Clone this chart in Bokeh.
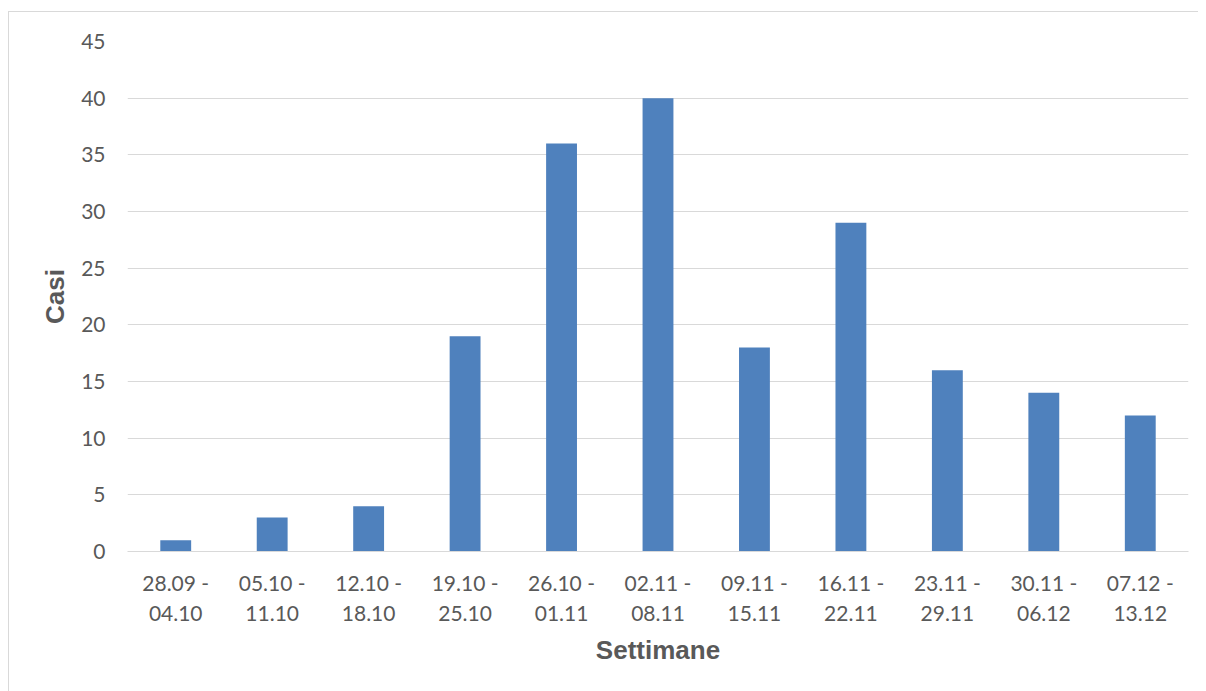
from bokeh.plotting import figure
from bokeh.models import ColumnDataSource, Range1d, FixedTicker
from bokeh.embed import file_html
from bokeh.resources import INLINE

weeks = ["28.09 -\n04.10", "05.10 -\n11.10", "12.10 -\n18.10", "19.10 -\n25.10",
         "26.10 -\n01.11", "02.11 -\n08.11", "09.11 -\n15.11", "16.11 -\n22.11",
         "23.11 -\n29.11", "30.11 -\n06.12", "07.12 -\n13.12"]
cases = [1, 3, 4, 19, 36, 40, 18, 29, 16, 14, 12]
y_ticks = [0, 5, 10, 15, 20, 25, 30, 35, 40, 45]

src = ColumnDataSource(dict(w=weeks, c=cases))

p = figure(x_range=weeks, y_range=Range1d(0, 45), width=1190, height=683,
           output_backend="svg", toolbar_location=None,
           min_border_left=118, min_border_right=11, min_border_top=29,
           min_border_bottom=144)
p.styles = {"border-top": "1px solid #d9d9d9", "border-left": "1px solid #d9d9d9",
            "margin-top": "11px", "margin-left": "8px"}
p.outline_line_color = None
p.background_fill_color = "white"

p.vbar(x="w", top="c", width=0.32, source=src, fill_color="#4f81bd", line_color=None)

label_font = "Lato"
p.yaxis.ticker = FixedTicker(ticks=y_ticks)
p.yaxis.axis_line_color = None
p.yaxis.major_tick_line_color = None
p.yaxis.minor_tick_line_color = None
p.yaxis.major_label_text_font = label_font
p.yaxis.major_label_text_font_size = "21px"
p.yaxis.major_label_text_color = "#595959"
p.yaxis.major_label_standoff = 16
p.yaxis.axis_label = "Casi"
p.yaxis.axis_label_text_font = "Liberation Sans"
p.yaxis.axis_label_text_font_style = "bold"
p.yaxis.axis_label_text_font_size = "26px"
p.yaxis.axis_label_text_color = "#595959"
p.yaxis.axis_label_standoff = 8

p.xaxis.axis_line_color = "#d9d9d9"
p.xaxis.major_tick_line_color = None
p.xaxis.minor_tick_line_color = None
p.xaxis.major_label_text_font = label_font
p.xaxis.major_label_text_font_size = "21px"
p.xaxis.major_label_text_color = "#595959"
p.xaxis.major_label_standoff = 12
p.xaxis.axis_label = "Settimane"
p.xaxis.axis_label_text_font = "Liberation Sans"
p.xaxis.axis_label_text_font_style = "bold"
p.xaxis.axis_label_text_font_size = "26px"
p.xaxis.axis_label_text_color = "#595959"
p.xaxis.axis_label_standoff = 7

p.xgrid.grid_line_color = None
p.ygrid.grid_line_color = "#d9d9d9"
p.ygrid.grid_line_width = 1

open("out.html", "w").write(file_html(p, INLINE))
